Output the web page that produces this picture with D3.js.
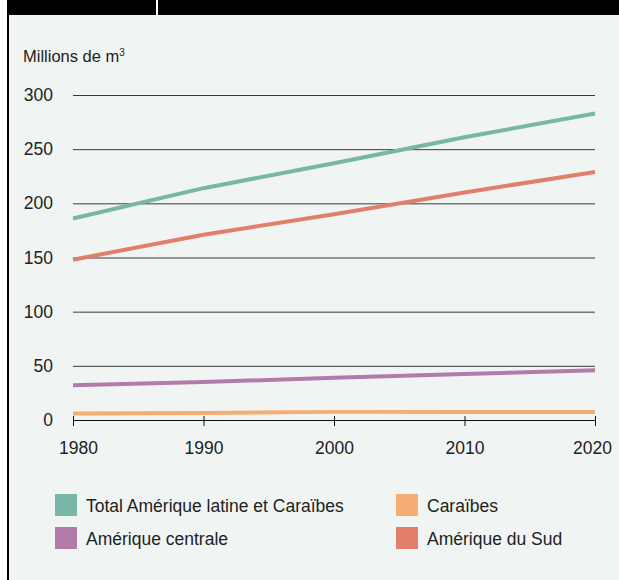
<!DOCTYPE html>
<html>
<head>
<meta charset="utf-8">
<script src="https://cdn.jsdelivr.net/npm/d3@7"></script>
<style>
  html, body { margin: 0; padding: 0; background: #fff; }
  svg { display: block; font-family: "Liberation Sans", Arial, sans-serif; }
</style>
</head>
<body>
<svg id="chart" width="619" height="580"></svg>
<script>
// data
var years = [1980, 1990, 2000, 2010, 2020];
var totalLatAm = [186, 214, 237, 261, 283];
var southAm = [148, 171, 190, 210, 229];
var centralAm = [32, 35, 39, 42.5, 46];
var caribbean = [6, 6.5, 7.5, 7.5, 7.5];
var yTicks = [0, 50, 100, 150, 200, 250, 300];
var seriesNames = ["Total Amérique latine et Caraïbes", "Caraïbes", "Amérique centrale", "Amérique du Sud"];
var seriesColors = ["#78b6a8", "#f4ad72", "#b17ca9", "#e27f6c"];

drawChart();

function drawChart() {
  var svg = d3.select("#chart"),
    WIDTH = 619,
    HEIGHT = 580,
    MARGINS = { top: 95, right: 24, bottom: 160, left: 73 };

  // panel background + frame
  svg.append("rect")
    .attr("x", 8).attr("y", 0)
    .attr("width", WIDTH - 8).attr("height", HEIGHT)
    .attr("fill", "#f0f5f3");
  svg.append("rect")
    .attr("x", 8).attr("y", 0)
    .attr("width", WIDTH - 8).attr("height", 15)
    .attr("fill", "#000");
  svg.append("rect")
    .attr("x", 156).attr("y", 0)
    .attr("width", 2).attr("height", 15)
    .attr("fill", "#fff");
  svg.append("rect")
    .attr("x", 7).attr("y", 0)
    .attr("width", 2).attr("height", HEIGHT)
    .attr("fill", "#000");

  var x = d3.scaleLinear()
    .domain([1980, 2020])
    .range([MARGINS.left, 595]);

  var y = d3.scaleLinear()
    .domain([0, 300])
    .range([420, MARGINS.top]);

  // gridlines
  svg.append("g")
    .attr("transform", "translate(" + MARGINS.left + ",0)")
    .call(d3.axisLeft(y).tickValues(yTicks.slice(1)).tickSize(-(595 - MARGINS.left)).tickFormat(""))
    .call(g => g.select(".domain").remove())
    .call(g => g.selectAll("line").attr("stroke", "#3a3a3a").attr("stroke-width", 1));

  // y labels
  svg.append("g")
    .selectAll("text")
    .data(yTicks)
    .enter().append("text")
    .attr("x", 53)
    .attr("y", d => y(d) + 6)
    .attr("text-anchor", "end")
    .attr("font-size", 17.5)
    .attr("fill", "#222")
    .text(d => d);

  // x axis
  var xAxis = svg.append("g")
    .attr("transform", "translate(0,420)")
    .call(d3.axisBottom(x).tickValues(years).tickSize(6).tickSizeOuter(0).tickFormat(d3.format("d")))
    .call(g => g.select(".domain").attr("stroke", "#111").attr("d", "M" + x(1980) + ",0.5H" + x(2020)));
  xAxis.selectAll(".tick line").attr("y1", -4).attr("stroke", "#111");
  xAxis.selectAll(".tick text")
    .attr("font-size", 17.5)
    .attr("font-family", "\"Liberation Sans\", Arial, sans-serif")
    .attr("fill", "#222")
    .attr("dy", "1.45em");
  xAxis.selectAll(".tick").filter(d => d === 1980).select("text").attr("dx", 5);
  xAxis.selectAll(".tick").filter(d => d === 2020).select("text").attr("dx", -3);

  // unit label
  svg.append("text")
    .attr("x", 23).attr("y", 62)
    .attr("font-size", 16.5)
    .attr("fill", "#222")
    .text("Millions de m")
    .append("tspan")
    .attr("font-size", 10)
    .attr("dy", -6)
    .text("3");

  // lines
  var lineFunc = d3.line()
    .x((d, i) => x(years[i]))
    .y(d => y(d));

  var allSeries = [caribbean, centralAm, southAm, totalLatAm];
  var allColors = [seriesColors[1], seriesColors[2], seriesColors[3], seriesColors[0]];
  allSeries.forEach(function (s, i) {
    svg.append("path")
      .attr("d", lineFunc(s))
      .attr("stroke", allColors[i])
      .attr("stroke-width", 4)
      .attr("fill", "none");
  });

  // legend
  var legendPos = [[55, 494], [396, 494], [55, 527], [396, 527]];
  var legend = svg.append("g")
    .selectAll("g")
    .data(seriesNames)
    .enter().append("g")
    .attr("transform", (d, i) => "translate(" + legendPos[i][0] + "," + legendPos[i][1] + ")");
  legend.append("rect")
    .attr("width", 22).attr("height", 22)
    .attr("fill", (d, i) => seriesColors[i]);
  legend.append("text")
    .attr("x", 31).attr("y", 18)
    .attr("font-size", 17.5)
    .attr("fill", "#222")
    .text(d => d);
}
</script>
</body>
</html>
